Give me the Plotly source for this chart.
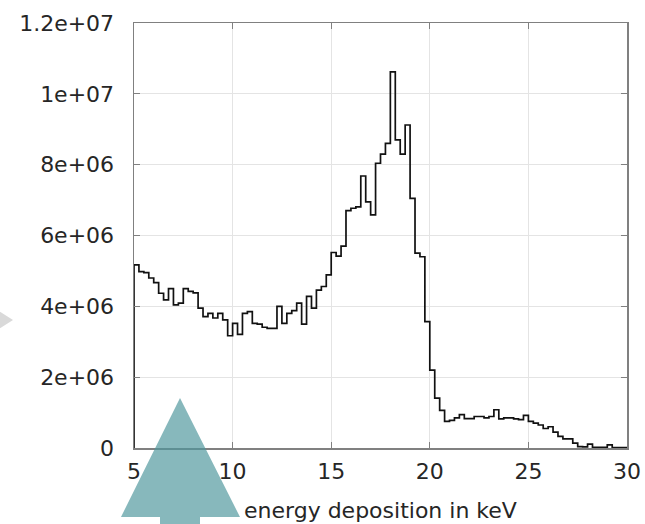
import numpy as np
import plotly.graph_objects as go

# Histogram data: energy deposition (keV) bins, counts
bin_start = 5.0
bin_width = 0.25
counts_millions = [
    5.17, 4.98, 4.95, 4.80, 4.67, 4.37, 4.18, 4.50, 4.04, 4.09,
    4.50, 4.42, 4.38, 3.95, 3.71, 3.80, 3.67, 3.80, 3.62, 3.17,
    3.52, 3.21, 3.80, 3.85, 3.52, 3.50, 3.41, 3.38, 3.38, 4.00,
    3.52, 3.80, 3.88, 4.09, 3.50, 4.28, 3.95, 4.46, 4.56, 4.89,
    5.52, 5.42, 5.70, 6.70, 6.77, 6.81, 7.68, 6.95, 6.58, 8.04,
    8.30, 8.60, 10.62, 8.70, 8.30, 9.12, 7.05, 5.50, 5.40, 3.57,
    2.20, 1.41, 1.06, 0.75, 0.78, 0.85, 0.94, 0.83, 0.83, 0.89,
    0.89, 0.85, 0.89, 1.08, 0.82, 0.85, 0.85, 0.82, 0.80, 0.92,
    0.75, 0.70, 0.65, 0.55, 0.60, 0.45, 0.33, 0.26, 0.26, 0.14,
    0.04, 0.03, 0.11, 0.02, 0.02, 0.02, 0.09, 0.01, 0.01, 0.01,
]
x_ticks = [5, 10, 15, 20, 25, 30]
y_ticks = [0, 2e6, 4e6, 6e6, 8e6, 1e7, 1.2e7]
y_tick_labels = ["0", "2e+06", "4e+06", "6e+06", "8e+06", "1e+07", "1.2e+07"]
x_title = "energy deposition in keV"

counts = np.array(counts_millions) * 1e6
edges = bin_start + bin_width * np.arange(len(counts) + 1)
xs = np.concatenate([[edges[0]], edges])
ys = np.concatenate([[0.0], counts, [counts[-1]]])

fig = go.Figure()
fig.add_trace(go.Scatter(
    x=xs, y=ys, mode="lines", line_shape="hv",
    line=dict(color="#111111", width=1.7),
    hoverinfo="skip", showlegend=False,
))

W, H = 645, 524
L, R, T, B = 134, 627, 23, 448  # plot area in page pixels

def px(xp):
    return (xp - L) / (R - L)

def py(yp):
    return (B - yp) / (B - T)

font = dict(family="DejaVu Sans", size=22, color="#262626")

axis_common = dict(
    showgrid=True, gridcolor="#e4e4e4", gridwidth=1,
    showline=True, linecolor="#808080", linewidth=1.5, mirror="allticks",
    ticks="inside", ticklen=6, tickcolor="#808080", tickwidth=1,
    zeroline=False, tickfont=font, automargin=False,
)

fig.update_xaxes(range=[5, 30], tickvals=x_ticks, ticktext=[str(v) for v in x_ticks],
                 ticklabelstandoff=3, ticklabeloverflow="allow", **axis_common)
fig.update_yaxes(range=[0, 1.2e7], tickvals=y_ticks, ticktext=y_tick_labels,
                 ticklabelstandoff=14, **axis_common)

fig.add_annotation(text=x_title, xref="paper", yref="paper",
                   x=0.5, y=py(510), xanchor="center", yanchor="middle",
                   showarrow=False, font=font)

# decorative teal up-arrow (slide overlay)
arrow = (f"M {px(121)},{py(517)} L {px(180)},{py(398)} L {px(240)},{py(517)} "
         f"L {px(200)},{py(517)} L {px(200)},{py(530)} L {px(160)},{py(530)} "
         f"L {px(160)},{py(517)} Z")
fig.add_shape(type="path", path=arrow, xref="paper", yref="paper",
              fillcolor="rgba(78,150,156,0.68)", line=dict(width=0), layer="above")

# decorative gray triangle at left edge
tri = f"M {px(-6)},{py(308)} L {px(13)},{py(320)} L {px(-6)},{py(332)} Z"
fig.add_shape(type="path", path=tri, xref="paper", yref="paper",
              fillcolor="#d9d9d9", line=dict(width=0), layer="above")

fig.update_layout(
    width=W, height=H,
    margin=dict(l=L, r=W - R, t=T, b=H - B),
    paper_bgcolor="white", plot_bgcolor="white",
    font=font,
)

fig.write_html(
    "out.html",
    config={"displayModeBar": False, "staticPlot": True},
    post_script="document.body.style.margin='0';document.body.style.overflow='hidden';",
)
